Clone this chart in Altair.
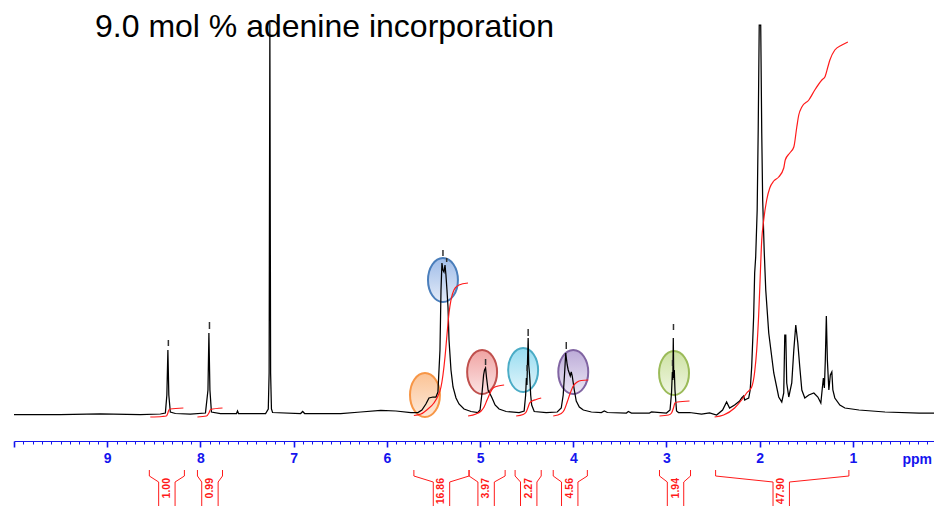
import altair as alt
import pandas as pd

TITLE = "9.0 mol % adenine incorporation"

# 1H NMR trace (ppm, intensity in arbitrary units)
SPEC_PPM = [10.000, 9.505, 9.075, 8.645, 8.430, 8.376, 8.360, 8.349, 8.339, 8.323,
            8.269, 8.108, 7.946, 7.919, 7.909, 7.898, 7.882, 7.785, 7.613, 7.602,
            7.591, 7.301, 7.272, 7.263, 7.255, 7.247, 7.238, 7.226, 6.925, 6.903,
            6.882, 6.495, 6.280, 6.065, 5.903, 5.742, 5.667, 5.624, 5.581, 5.548,
            5.505, 5.473, 5.452, 5.430, 5.419, 5.409, 5.398, 5.387, 5.376, 5.366,
            5.355, 5.344, 5.333, 5.312, 5.290, 5.258, 5.226, 5.172, 5.097, 5.022,
            5.000, 4.978, 4.962, 4.952, 4.941, 4.930, 4.914, 4.892, 4.871, 4.839,
            4.796, 4.720, 4.581, 4.527, 4.511, 4.503, 4.497, 4.491, 4.484, 4.478,
            4.471, 4.465, 4.457, 4.446, 4.419, 4.290, 4.172, 4.129, 4.108, 4.091,
            4.081, 4.065, 4.054, 4.043, 4.032, 4.022, 4.011, 3.989, 3.968, 3.935,
            3.892, 3.806, 3.699, 3.667, 3.634, 3.430, 3.409, 3.376, 3.183, 3.161,
            3.000, 2.962, 2.946, 2.937, 2.932, 2.927, 2.922, 2.916, 2.909, 2.892,
            2.871, 2.753, 2.624, 2.538, 2.462, 2.398, 2.355, 2.323, 2.269, 2.215,
            2.194, 2.172, 2.161, 2.140, 2.118, 2.102, 2.086, 2.065, 2.054, 2.043,
            2.027, 2.016, 2.005, 1.989, 1.978, 1.968, 1.952, 1.935, 1.903, 1.849,
            1.796, 1.763, 1.742, 1.731, 1.720, 1.710, 1.688, 1.656, 1.634, 1.613,
            1.591, 1.570, 1.548, 1.516, 1.473, 1.419, 1.376, 1.344, 1.328, 1.317,
            1.306, 1.296, 1.285, 1.274, 1.258, 1.242, 1.226, 1.215, 1.194, 1.140,
            1.086, 0.935, 0.656, 0.290, 0.130]
SPEC_INT = [-1.5, -1.5, -1, -1.5, -1, 0, 18, 63, 18, 1,
            -0.5, -1, 0, 23, 80, 23, 1, -0.5, -0.5, 2,
            -0.5, -0.5, 4, 40, 390, 40, 4, 0.5, -0.5, 1.5,
            -0.5, -0.5, 1, 2.5, 2, 0.5, 0.5, 3, 9, 15,
            16, 16, 21, 63, 123, 150, 143, 141, 148, 138,
            123, 106, 73, 43, 26, 15, 9, 4, 1.5, 0.5,
            3, 21, 38, 43, 45, 35, 23, 19, 15, 8,
            4, 1.5, 0.5, 2, 18, 35, 28, 51, 75, 48,
            41, 33, 18, 8, 1.5, 0.5, 1, 5, 18, 43,
            60, 48, 43, 40, 37, 41, 37, 23, 12, 6,
            3, 1, 0.5, 2, 0.5, 0, 1.5, 0, 0, 1,
            0, 3, 20, 41, 33, 75, 35, 43, 23, 2,
            0.5, 0.5, -1, 0, -2, 3, 11, 5, 8, 12,
            15, 17, 13, 14, 15, 23, 46, 96, 140, 156,
            203, 283, 388, 388, 280, 213, 163, 123, 80, 40,
            16, 11, 20, 78, 78, 30, 16, 30, 63, 88,
            70, 46, 23, 15, 18, 20, 16, 10, 25, 35,
            25, 53, 97, 53, 23, 38, 41, 23, 15, 8,
            5, 3, 1, 0, 0]

# integral curves
INTEGRAL_PPM = [
    [8.538, 8.409, 8.366, 8.349, 8.339, 8.323, 8.183],
    [8.032, 7.935, 7.909, 7.892, 7.763],
    [5.710, 5.634, 5.559, 5.495, 5.452, 5.419, 5.398, 5.376, 5.355, 5.333, 5.312,
     5.280, 5.226, 5.129],
    [5.129, 5.043, 4.989, 4.957, 4.925, 4.892, 4.860, 4.806, 4.742],
    [4.613, 4.538, 4.505, 4.484, 4.468, 4.441, 4.398, 4.344],
    [4.215, 4.129, 4.097, 4.065, 4.032, 4.000, 3.957, 3.914, 3.839],
    [3.075, 2.978, 2.946, 2.925, 2.909, 2.882, 2.753],
    [2.484, 2.387, 2.269, 2.194, 2.140, 2.086, 2.054, 2.032, 2.011, 2.000, 1.978,
     1.957, 1.925, 1.892, 1.849, 1.796, 1.742, 1.726, 1.677, 1.634, 1.602, 1.581,
     1.548, 1.473, 1.409, 1.333, 1.301, 1.269, 1.247, 1.194, 1.118, 1.054],
]
INTEGRAL_VAL = [
    [-4, -3.5, -3, 0, 3, 4, 5],
    [-4, -3, 0, 3.5, 5],
    [-2.5, -1, 4, 10, 17, 26, 38, 56, 78, 100, 113, 123, 128, 130],
    [-3, -1, 2, 6, 13, 20, 25, 27, 28],
    [-3, -1.5, 1, 6, 10, 12, 13.5, 15],
    [-3, -0.5, 3, 11, 20, 27, 31, 32.5, 33],
    [-3, -2, 0, 5, 10, 11, 12],
    [-4, -2, 5, 13, 20, 26, 41, 63, 98, 123, 173, 193, 213, 225, 232, 236, 245,
     253, 260, 266, 286, 298, 306, 313, 323, 333, 336, 346, 353, 363, 368, 371],
]

# peak-picking marks
PEAK_PPM = [8.344, 7.903, 5.398, 5.358, 4.941, 4.484, 4.495, 4.075, 2.925, 2.935]
PEAK_LO = [67, 84, 157, 151, 48, 77, 42, 64, 83, 47]
PEAK_HI = [73, 91, 163, 155, 54, 84, 48, 71, 89, 53]

# highlight ellipses
CIRCLE_PPM = [5.591, 5.398, 4.978, 4.538, 4.000, 2.919]
CIRCLE_INT = [18, 133, 41, 43, 41, 40]
CIRCLE_STROKE = ["#f79646", "#4a7ebb", "#c0504d", "#4bacc6", "#8064a2", "#9bbb59"]
CIRCLE_TOP = ["#fbc395", "#9fbce8", "#f0a3a2", "#97dcf0", "#bcabd8", "#cde2a2"]
CIRCLE_BOTTOM = ["#fde9d9", "#e3ebf8", "#fbe3e3", "#e2f5fb", "#ece7f4", "#f0f6e3"]

# integral regions and values
INT_LABELS = ["1.00", "0.99", "16.86", "3.97", "2.27", "4.56", "1.94", "47.90"]
INT_FROM = [8.548, 8.032, 5.710, 5.118, 4.624, 4.215, 3.075, 2.473]
INT_TO = [8.172, 7.763, 5.118, 4.731, 4.344, 3.849, 2.742, 1.043]
INT_CENTER = [8.360, 7.898, 5.414, 4.935, 4.478, 4.038, 2.903, 1.769]

BLUE = "#1414ee"
RED = "#ff1a1a"
FONT = "Liberation Sans"

# ---------------- data tables ----------------
spec_df = pd.DataFrame({"ppm": SPEC_PPM, "val": SPEC_INT, "k": range(len(SPEC_PPM))})

rows = []
for g, (pp, vv) in enumerate(zip(INTEGRAL_PPM, INTEGRAL_VAL)):
    for k, (p, v) in enumerate(zip(pp, vv)):
        rows.append({"g": g, "k": k, "ppm": p, "val": v})
int_df = pd.DataFrame(rows)

peak_df = pd.DataFrame({"ppm": PEAK_PPM, "lo": PEAK_LO, "hi": PEAK_HI})
circ_df = pd.DataFrame({"ppm": CIRCLE_PPM, "val": CIRCLE_INT, "i": range(len(CIRCLE_PPM))})

# bracket geometry (vertical levels in intensity units below the axis)
LV_TOP, LV_MID, LV_IN, LV_BOT = -57, -63, -69, -104
HALF = 0.088
brows = []
for i, (a, b, c) in enumerate(zip(INT_FROM, INT_TO, INT_CENTER)):
    for side, outer, inner in (("L", a, c + HALF), ("R", b, c - HALF)):
        pts = [(outer, LV_TOP), (outer, LV_MID), (inner, LV_IN), (inner, LV_BOT)]
        for k, (p, v) in enumerate(pts):
            brows.append({"g": f"{i}{side}", "k": k, "ppm": p, "val": v})
br_df = pd.DataFrame(brows)
lab_df = pd.DataFrame({"ppm": INT_CENTER, "val": [LV_IN + 4] * len(INT_CENTER), "t": INT_LABELS})

# ---------------- scales / axis ----------------
xs = alt.Scale(domain=[10.0, 0.130], nice=False, zero=False)
ys = alt.Scale(domain=[-28, 405], nice=False, zero=False)

TICKS = [round(i / 10, 1) for i in range(2, 101)]
is_major = "abs(datum.value - round(datum.value)) < 0.001"
x_axis = alt.Axis(
    values=TICKS,
    labelExpr=f"{is_major} && datum.value < 9.5 ? format(datum.value, 'd') : ''",
    tickSize={"condition": {"test": is_major, "value": 6}, "value": 3},
    tickWidth={"condition": {"test": is_major, "value": 1.6}, "value": 1},
    domainColor=BLUE, tickColor=BLUE, labelColor=BLUE,
    labelFont=FONT, labelFontWeight="bold", labelFontSize=14, labelPadding=4,
    labelOverlap=False, labelFlush=False, grid=False,
    title="ppm", titleX=888, titleY=18, titleAlign="left", titleBaseline="middle",
    titleAngle=0, titleColor=BLUE, titleFont=FONT, titleFontSize=14,
    titleFontWeight="bold",
)
X = alt.X("ppm:Q", scale=xs, axis=x_axis)
Y = alt.Y("val:Q", scale=ys, axis=None)

ELLIPSE = "M -0.68 0 A 0.68 1 0 1 0 0.68 0 A 0.68 1 0 1 0 -0.68 0 Z"

layers = []
for i in range(len(CIRCLE_PPM)):
    grad = alt.Gradient(
        gradient="linear", x1=0, x2=0, y1=0, y2=1,
        stops=[alt.GradientStop(color=CIRCLE_TOP[i], offset=0),
               alt.GradientStop(color=CIRCLE_BOTTOM[i], offset=1)],
    )
    layers.append(
        alt.Chart(circ_df).transform_filter(alt.datum.i == i).mark_point(
            shape=ELLIPSE, size=1936, filled=True, fill=grad, fillOpacity=1,
            opacity=1, stroke=CIRCLE_STROKE[i], strokeWidth=2,
        ).encode(x=X, y=Y)
    )

spec = alt.Chart(spec_df).mark_line(color="black", strokeWidth=1.25).encode(
    x=X, y=Y, order="k:Q")
integ = alt.Chart(int_df).mark_line(color=RED, strokeWidth=1.2, interpolate="monotone").encode(
    x=X, y=Y, detail="g:N", order="k:Q")
peaks = alt.Chart(peak_df).mark_rule(color="#333333", strokeWidth=1.5).encode(
    x=X, y=alt.Y("lo:Q", scale=ys, axis=None), y2="hi:Q")
brackets = alt.Chart(br_df).mark_line(color=RED, strokeWidth=1).encode(
    x=X, y=Y, detail="g:N", order="k:Q")
labels = alt.Chart(lab_df).mark_text(
    angle=270, align="right", baseline="middle", fontSize=10.5, fontWeight="bold",
    color=RED, font=FONT).encode(x=X, y=Y, text="t:N")
title = alt.Chart(pd.DataFrame({"t": [TITLE]})).mark_text(
    align="left", baseline="alphabetic", fontSize=32, font=FONT, color="black"
).encode(x=alt.value(81), y=alt.value(29), text="t:N")

chart = alt.layer(*layers, spec, integ, peaks, brackets, labels, title).properties(
    width=920, height=433,
    autosize=alt.AutoSizeParams(type="none"),
    padding={"left": 6, "top": 0, "right": 0, "bottom": 65},
).configure_view(stroke=None)

chart.save("out.html", embed_options={"renderer": "svg", "actions": False})
